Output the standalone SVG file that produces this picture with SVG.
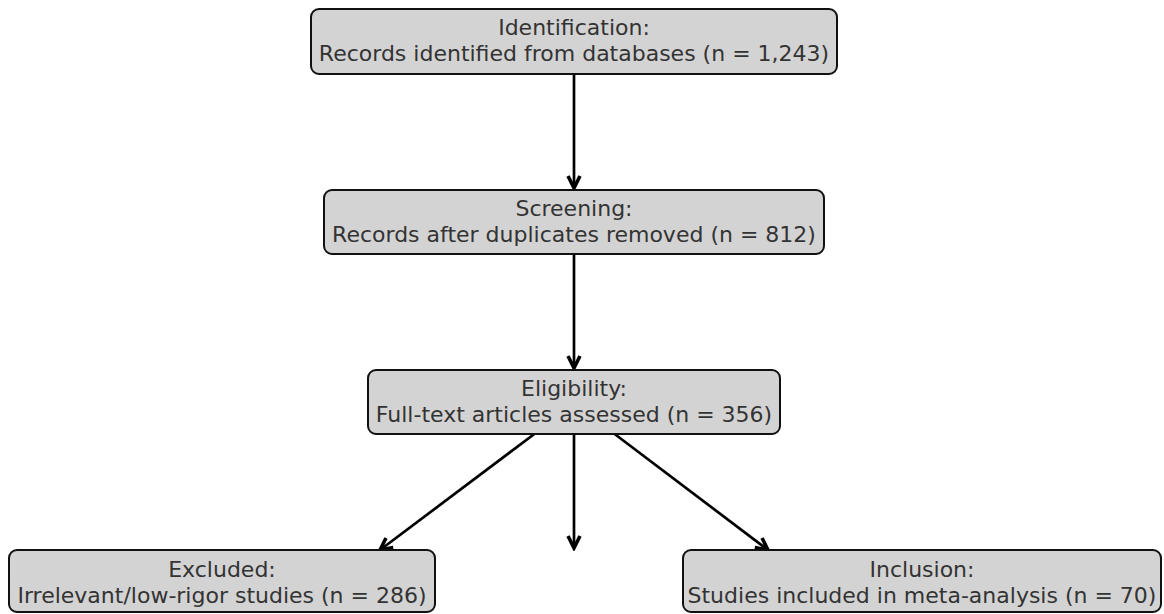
<svg xmlns="http://www.w3.org/2000/svg" width="1164" height="614" viewBox="0 0 1164 614">
<defs>
<style>
.box{fill:#d3d3d3;stroke:#111;stroke-width:2}
.t{font-family:"DejaVu Sans",sans-serif;font-size:22px;fill:#333;text-anchor:middle}
.c{stroke:#000;stroke-width:2.7;fill:none}
</style>
<marker id="ah" markerUnits="userSpaceOnUse" markerWidth="16" markerHeight="16" refX="10" refY="6" orient="auto" viewBox="0 0 12 12">
<path d="M1,1.5 L10,6 L1,10.5" fill="none" stroke="#000" stroke-width="2.7" stroke-linejoin="miter"/>
</marker>
</defs>
<rect width="1164" height="614" fill="#fff"/>
<g id="connectors">
<line class="c" x1="574" y1="74" x2="574" y2="188" marker-end="url(#ah)"/>
<line class="c" x1="574" y1="254" x2="574" y2="368" marker-end="url(#ah)"/>
<line class="c" x1="537" y1="432" x2="380" y2="550" marker-end="url(#ah)"/>
<line class="c" x1="574" y1="434" x2="574" y2="548" marker-end="url(#ah)"/>
<line class="c" x1="612" y1="432" x2="768" y2="550" marker-end="url(#ah)"/>
</g>
<g id="identification">
<rect class="box" x="311" y="9" width="526" height="65" rx="8"/>
<text class="t" x="574" y="35">Identification:</text>
<text class="t" x="574" y="61">Records identified from databases (n = 1,243)</text>
</g>
<g id="screening">
<rect class="box" x="324" y="190" width="500" height="64" rx="8"/>
<text class="t" x="574" y="216">Screening:</text>
<text class="t" x="574" y="242">Records after duplicates removed (n = 812)</text>
</g>
<g id="eligibility">
<rect class="box" x="368" y="370" width="412" height="64" rx="8"/>
<text class="t" x="574" y="396">Eligibility:</text>
<text class="t" x="574" y="422">Full-text articles assessed (n = 356)</text>
</g>
<g id="excluded">
<rect class="box" x="9" y="550" width="426" height="62" rx="8"/>
<text class="t" x="222" y="577">Excluded:</text>
<text class="t" x="222" y="603">Irrelevant/low-rigor studies (n = 286)</text>
</g>
<g id="inclusion">
<rect class="box" x="683" y="550" width="478" height="62" rx="8"/>
<text class="t" x="922" y="577">Inclusion:</text>
<text class="t" x="922" y="603">Studies included in meta-analysis (n = 70)</text>
</g>
</svg>
